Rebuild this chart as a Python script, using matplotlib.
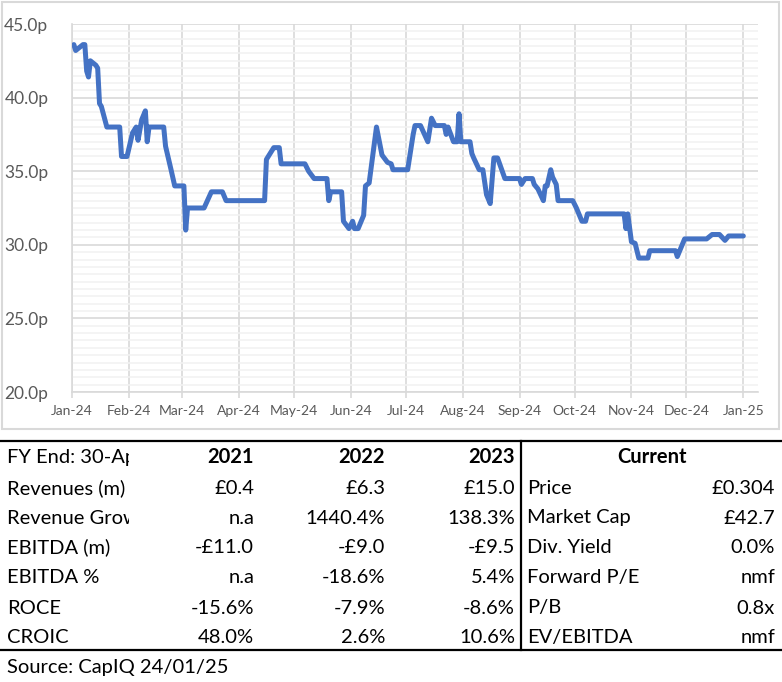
import pandas as pd
import matplotlib
matplotlib.use('Agg')
import matplotlib.pyplot as plt
import matplotlib.dates as mdates
from matplotlib.ticker import MultipleLocator, FuncFormatter
from matplotlib.transforms import Bbox, TransformedBbox
from matplotlib.patches import Rectangle
from matplotlib.lines import Line2D

plt.rcParams['font.family'] = ['Lato', 'DejaVu Sans']

# share price (pence)
price_dates = [
    '2024-01-02', '2024-01-03', '2024-01-07', '2024-01-08', '2024-01-09', '2024-01-10',
    '2024-01-11', '2024-01-14', '2024-01-15', '2024-01-16', '2024-01-17', '2024-01-20',
    '2024-01-27', '2024-01-28', '2024-01-31', '2024-02-03', '2024-02-05', '2024-02-06',
    '2024-02-08', '2024-02-10', '2024-02-11', '2024-02-12', '2024-02-20', '2024-02-21',
    '2024-02-24', '2024-02-26', '2024-03-02', '2024-03-03', '2024-03-04', '2024-03-13',
    '2024-03-17', '2024-03-23', '2024-03-25', '2024-04-15', '2024-04-16', '2024-04-18',
    '2024-04-20', '2024-04-23', '2024-04-24', '2024-05-07', '2024-05-09', '2024-05-12',
    '2024-05-19', '2024-05-20', '2024-05-21', '2024-05-27', '2024-05-28', '2024-05-31',
    '2024-06-02', '2024-06-03', '2024-06-05', '2024-06-08', '2024-06-09', '2024-06-11',
    '2024-06-15', '2024-06-18', '2024-06-21', '2024-06-23', '2024-06-24', '2024-07-02',
    '2024-07-05', '2024-07-06', '2024-07-09', '2024-07-13', '2024-07-15', '2024-07-17',
    '2024-07-22', '2024-07-23', '2024-07-24', '2024-07-27', '2024-07-29', '2024-07-30',
    '2024-07-31', '2024-08-05', '2024-08-06', '2024-08-07', '2024-08-10', '2024-08-12',
    '2024-08-14', '2024-08-16', '2024-08-18', '2024-08-20', '2024-08-24', '2024-09-01',
    '2024-09-02', '2024-09-04', '2024-09-08', '2024-09-09', '2024-09-11', '2024-09-14',
    '2024-09-15', '2024-09-16', '2024-09-18', '2024-09-19', '2024-09-21', '2024-09-22',
    '2024-09-30', '2024-10-02', '2024-10-05', '2024-10-07', '2024-10-08', '2024-10-28',
    '2024-10-29', '2024-10-30', '2024-11-01', '2024-11-03', '2024-11-05', '2024-11-10',
    '2024-11-11', '2024-11-25', '2024-11-26', '2024-11-30', '2024-12-12', '2024-12-15',
    '2024-12-19', '2024-12-22', '2024-12-24', '2025-01-01',
]
price_pence = [
    43.6, 43.2, 43.6, 43.6, 41.8, 41.4,
    42.5, 42.2, 42.0, 39.6, 39.4, 38.0,
    38.0, 36.0, 36.0, 37.6, 38.0, 37.1,
    38.5, 39.1, 37.0, 38.0, 38.0, 36.7,
    35.1, 34.0, 34.0, 31.0, 32.5, 32.5,
    33.6, 33.6, 33.0, 33.0, 35.8, 36.2,
    36.6, 36.6, 35.5, 35.5, 35.0, 34.5,
    34.5, 33.0, 33.6, 33.6, 31.6, 31.1,
    31.6, 31.1, 31.1, 32.0, 34.0, 34.2,
    38.0, 36.1, 35.6, 35.5, 35.1, 35.1,
    37.5, 38.1, 38.1, 37.0, 38.6, 38.1,
    38.1, 37.5, 38.0, 37.0, 37.0, 38.9,
    37.0, 37.0, 36.2, 35.9, 35.1, 35.1,
    33.4, 32.8, 35.9, 35.9, 34.5, 34.5,
    34.1, 34.5, 34.5, 34.1, 33.8, 33.0,
    34.0, 34.0, 35.1, 34.6, 34.1, 33.0,
    33.0, 32.5, 31.6, 31.6, 32.1, 32.1,
    31.1, 32.1, 30.2, 30.1, 29.1, 29.1,
    29.6, 29.6, 29.2, 30.4, 30.4, 30.7,
    30.7, 30.3, 30.6, 30.6,
]

# financial summary table
fy_label = 'FY End: 30-Apr'
years = ['2021', '2022', '2023']
metric_names = ['Revenues (m)', 'Revenue Growth', 'EBITDA (m)', 'EBITDA %', 'ROCE', 'CROIC']
values_2021 = ['£0.4', 'n.a', '-£11.0', 'n.a', '-15.6%', '48.0%']
values_2022 = ['£6.3', '1440.4%', '-£9.0', '-18.6%', '-7.9%', '2.6%']
values_2023 = ['£15.0', '138.3%', '-£9.5', '5.4%', '-8.6%', '10.6%']
current_names = ['Price', 'Market Cap', 'Div. Yield', 'Forward P/E', 'P/B', 'EV/EBITDA']
current_values = ['£0.304', '£42.7', '0.0%', 'nmf', '0.8x', 'nmf']
source_note = 'Source: CapIQ 24/01/25'

W, H = 782, 682
fig = plt.figure(figsize=(W / 100, H / 100), dpi=100)


def fx(px):
    return px / W


def fy(py):
    return 1 - py / H


# light chart frame
fig.patches.append(Rectangle((fx(2), fy(429)), fx(777), 427 / H, transform=fig.transFigure,
                             fill=False, edgecolor='#d9d9d9', lw=1.5))

ax = fig.add_axes([fx(72), fy(392), fx(758) - fx(72), (392 - 24) / H])
dates = pd.to_datetime(price_dates)
ax.plot(dates, price_pence, color='#4472C4', lw=3.6, solid_joinstyle='round',
        solid_capstyle='round', zorder=3)

ax.set_ylim(20, 45)
ax.set_xlim(pd.Timestamp('2024-01-01'), pd.Timestamp('2025-01-09'))
ax.yaxis.set_major_locator(MultipleLocator(5))
ax.yaxis.set_minor_locator(MultipleLocator(0.5))
ax.yaxis.set_major_formatter(FuncFormatter(lambda v, p: f'{v:.1f}p'))
ax.xaxis.set_major_locator(mdates.MonthLocator())
ax.xaxis.set_major_formatter(mdates.DateFormatter('%b-%y'))

ax.grid(True, which='minor', axis='y', color='#f2f2f2', lw=1.2, zorder=0)
ax.grid(True, which='major', axis='both', color='#d9d9d9', lw=1.2, zorder=1)
for s in ['top', 'right']:
    ax.spines[s].set_visible(False)
for s in ['left', 'bottom']:
    ax.spines[s].set_color('#d9d9d9')
    ax.spines[s].set_linewidth(1.2)
ax.tick_params(axis='y', which='both', length=0, pad=17, labelsize=12.5, labelcolor='#595959')
ax.tick_params(axis='x', which='major', length=4, width=1.2, color='#d9d9d9', pad=5,
               labelsize=10, labelcolor='#595959')

# table rules
line_kw = dict(transform=fig.transFigure, color='black', lw=1.6)
fig.add_artist(Line2D([0, 1], [fy(441), fy(441)], **line_kw))
fig.add_artist(Line2D([0, 1], [fy(650), fy(650)], **line_kw))
fig.add_artist(Line2D([fx(521), fx(521)], [fy(441), fy(650)], **line_kw))

fs = 14.5
clip = TransformedBbox(Bbox([[0, fy(650)], [fx(129), fy(441)]]), fig.transFigure)

header_y = 457
row_ys = [488, 518, 547.5, 577.5, 608, 637.5]
col_right = [254, 385, 515]

t = fig.text(fx(7), fy(header_y), fy_label, fontsize=fs, va='center', ha='left')
t.set_clip_box(clip)
t.set_clip_on(True)
for x, yr in zip(col_right, years):
    fig.text(fx(x), fy(header_y), yr, fontsize=fs, va='center', ha='right', fontweight='bold')
fig.text(fx(652), fy(header_y), 'Current', fontsize=fs, va='center', ha='center', fontweight='bold')

for i, y in enumerate(row_ys):
    t = fig.text(fx(7), fy(y), metric_names[i], fontsize=fs, va='center', ha='left')
    t.set_clip_box(clip)
    t.set_clip_on(True)
    for x, col in zip(col_right, [values_2021, values_2022, values_2023]):
        fig.text(fx(x), fy(y), col[i], fontsize=fs, va='center', ha='right')
    fig.text(fx(527), fy(y), current_names[i], fontsize=fs, va='center', ha='left')
    fig.text(fx(775), fy(y), current_values[i], fontsize=fs, va='center', ha='right')

fig.text(fx(7), fy(668), source_note, fontsize=fs, va='center', ha='left')

fig.savefig('out.png', dpi=100)
